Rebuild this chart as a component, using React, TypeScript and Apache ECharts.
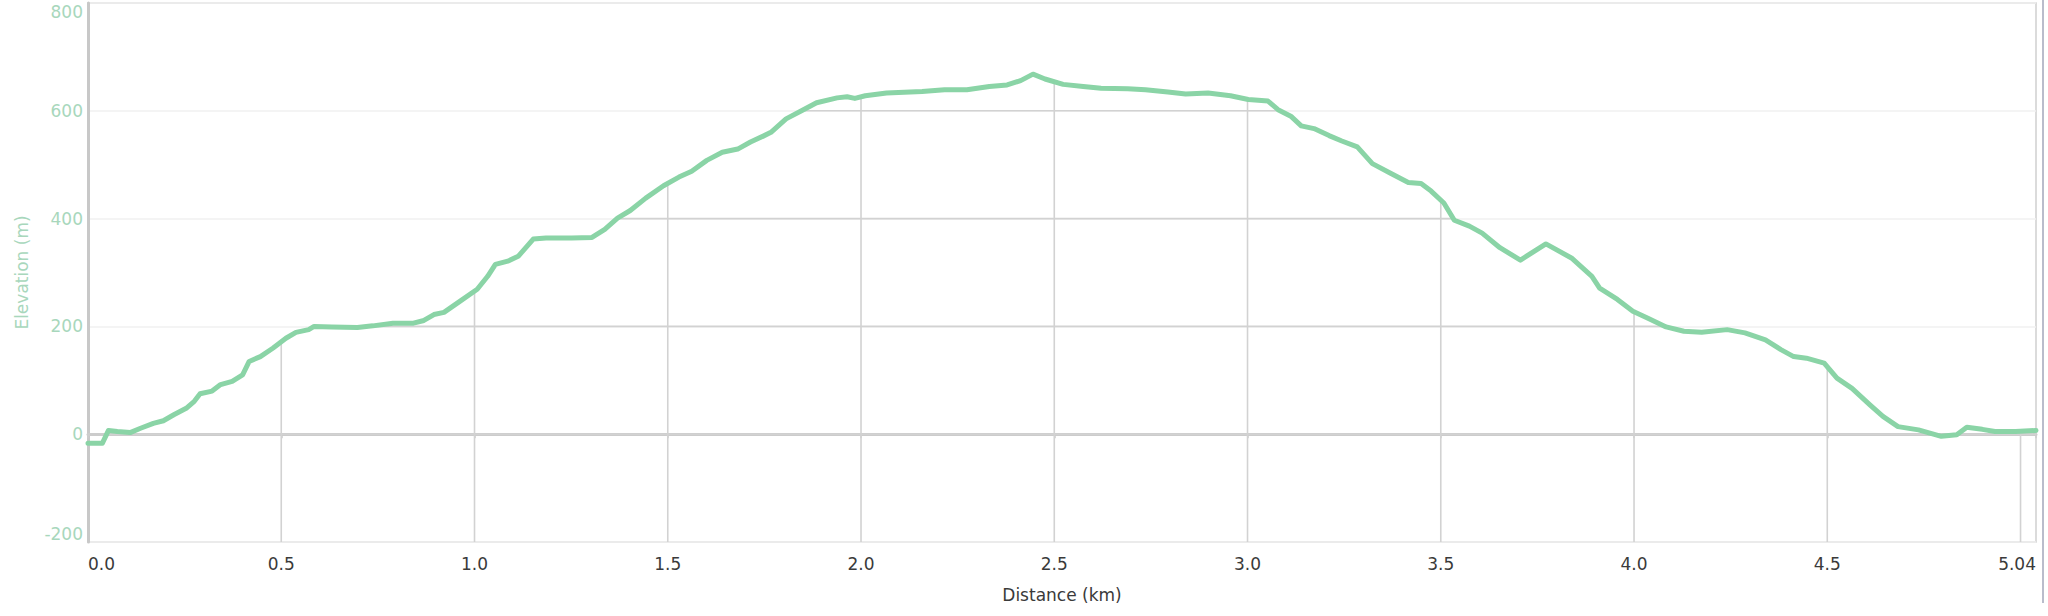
import React, { useEffect, useRef } from "react";
import * as echarts from "echarts";

// Distance along the track (km)
const distanceKm: number[] = [
  0.0, 0.037, 0.053, 0.076, 0.109, 0.136, 0.169, 0.195, 0.222, 0.254, 0.275, 0.29, 0.321, 0.343,
  0.373, 0.4, 0.417, 0.446, 0.479, 0.512, 0.538, 0.571, 0.585, 0.631, 0.697, 0.737, 0.789, 0.842,
  0.869, 0.895, 0.921, 0.961, 1.007, 1.034, 1.054, 1.086, 1.113, 1.152, 1.185, 1.251, 1.304, 1.337,
  1.37, 1.403, 1.443, 1.489, 1.529, 1.562, 1.601, 1.641, 1.681, 1.714, 1.747, 1.767, 1.806, 1.846,
  1.885, 1.938, 1.964, 1.984, 2.011, 2.066, 2.158, 2.216, 2.274, 2.332, 2.378, 2.413, 2.445, 2.476,
  2.523, 2.575, 2.621, 2.69, 2.736, 2.794, 2.84, 2.898, 2.956, 3.002, 3.053, 3.079, 3.112, 3.139,
  3.172, 3.211, 3.244, 3.284, 3.323, 3.37, 3.416, 3.449, 3.475, 3.508, 3.535, 3.574, 3.607, 3.653,
  3.706, 3.772, 3.838, 3.891, 3.911, 3.957, 3.997, 4.036, 4.083, 4.129, 4.175, 4.241, 4.287, 4.34,
  4.38, 4.413, 4.446, 4.492, 4.525, 4.564, 4.611, 4.644, 4.683, 4.736, 4.795, 4.835, 4.861, 4.901,
  4.934, 4.987, 5.04,
];

// Elevation (m)
const elevationM: number[] = [
  -17, -17, 7, 5, 3, 11, 20, 25, 36, 48, 61, 75, 80, 92,
  98, 110, 135, 144, 160, 178, 189, 194, 200, 199, 198, 201, 206, 206,
  211, 222, 226, 246, 269, 293, 315, 321, 330, 362, 364, 364, 365, 380,
  401, 415, 438, 461, 477, 488, 508, 523, 529, 542, 553, 560, 585, 600,
  615, 624, 626, 623, 628, 633, 636, 639, 639, 645, 648, 656, 668, 659,
  649, 645, 642, 641, 639, 635, 631, 633, 628, 621, 618, 602, 590, 572,
  567, 554, 544, 533, 502, 484, 467, 465, 451, 429, 397, 386, 373, 346,
  323, 353, 327, 293, 271, 250, 228, 215, 199, 191, 189, 194, 188, 175,
  157, 144, 141, 132, 104, 85, 54, 33, 14, 8, -4, -1, 13, 9,
  5, 5, 7,
];

const xLabelValues: number[] = [0, 0.5, 1, 1.5, 2, 2.5, 3, 3.5, 4, 4.5, 5.04];
const xDropLines: number[] = [0.5, 1, 1.5, 2, 2.5, 3, 3.5, 4, 4.5, 5];
const yLevels: number[] = [0, 200, 400, 600];

const X_MIN = 0;
const X_MAX = 5.04;
const Y_MIN = -200;
const Y_MAX = 800;

const FONT = "DejaVu Sans";
const LINE_GREEN = "#8ad4a6";
const LABEL_GREEN = "#a8d7bc";
const GRID_DARK = "#d2d2d2";
const GRID_FAINT = "#f1f1f1";

function elevAt(x: number): number {
  for (let i = 0; i < distanceKm.length - 1; i++) {
    const a = distanceKm[i];
    const b = distanceKm[i + 1];
    if (x >= a && x <= b) {
      const t = b === a ? 0 : (x - a) / (b - a);
      return elevationM[i] + t * (elevationM[i + 1] - elevationM[i]);
    }
  }
  return elevationM[elevationM.length - 1];
}

function renderUnderGrid(_params: any, api: any) {
  const children: any[] = [];
  const style = { stroke: GRID_DARK, lineWidth: 1.6 };
  // horizontal grid segments lying under the profile
  yLevels.forEach((L) => {
    let startX: number | null = null;
    for (let i = 0; i < distanceKm.length; i++) {
      const e = elevationM[i];
      const d = distanceKm[i];
      if (i === 0) {
        if (e >= L) startX = d;
        continue;
      }
      const pe = elevationM[i - 1];
      const pd = distanceKm[i - 1];
      const above = e >= L;
      const prevAbove = pe >= L;
      if (above && !prevAbove) {
        const t = (L - pe) / (e - pe);
        startX = pd + t * (d - pd);
      } else if (!above && prevAbove) {
        const t = (L - pe) / (e - pe);
        const endX = pd + t * (d - pd);
        if (startX !== null) {
          const p1 = api.coord([startX, L]);
          const p2 = api.coord([endX, L]);
          children.push({ type: "line", shape: { x1: p1[0], y1: p1[1], x2: p2[0], y2: p2[1] }, style });
        }
        startX = null;
      }
    }
    if (startX !== null) {
      const p1 = api.coord([startX, L]);
      const p2 = api.coord([distanceKm[distanceKm.length - 1], L]);
      children.push({ type: "line", shape: { x1: p1[0], y1: p1[1], x2: p2[0], y2: p2[1] }, style });
    }
  });
  // vertical drop lines from the axis up to the profile
  xDropLines.forEach((x) => {
    const p1 = api.coord([x, Y_MIN]);
    const p2 = api.coord([x, elevAt(x)]);
    children.push({ type: "line", shape: { x1: p1[0], y1: p1[1], x2: p2[0], y2: p2[1] }, style });
  });
  return { type: "group", children };
}

export default function App() {
  const ref = useRef<HTMLDivElement>(null);

  useEffect(() => {
    if (!ref.current) return;
    const chart = echarts.init(ref.current, undefined, { renderer: "svg" });
    const lineData = distanceKm.map((d, i) => [d, elevationM[i]]);

    chart.setOption({
      animation: false,
      backgroundColor: "#ffffff",
      textStyle: { fontFamily: FONT },
      grid: {
        left: 88,
        right: 12,
        top: 3,
        bottom: 74,
        show: true,
        borderColor: "#cfcfcf",
        borderWidth: 1.5,
        backgroundColor: "transparent",
      },
      xAxis: {
        type: "value",
        min: X_MIN,
        max: X_MAX,
        name: "Distance (km)",
        nameLocation: "middle",
        nameGap: 44,
        nameTextStyle: { color: "#3a3a3a", fontSize: 17, fontFamily: FONT },
        axisLine: { show: true, lineStyle: { color: "#cccccc", width: 3 } },
        axisTick: {
          show: true,
          length: 4,
          customValues: xLabelValues,
          lineStyle: { color: "#cccccc", width: 1.5 },
        },
        axisLabel: {
          customValues: xLabelValues,
          color: "#3a3a3a",
          fontSize: 17,
          fontFamily: FONT,
          margin: 13,
          alignMinLabel: "left",
          alignMaxLabel: "right",
          formatter: (v: number) => (v === 5.04 ? "5.04" : v.toFixed(1)),
        },
        splitLine: { show: false },
      },
      yAxis: {
        type: "value",
        min: Y_MIN,
        max: Y_MAX,
        interval: 200,
        name: "Elevation (m)",
        nameLocation: "middle",
        nameGap: 58,
        nameRotate: 90,
        nameTextStyle: { color: LABEL_GREEN, fontSize: 17, fontFamily: FONT },
        axisLine: { show: true, lineStyle: { color: "#c8c8c8", width: 3 } },
        axisTick: { show: false },
        axisLabel: {
          color: LABEL_GREEN,
          fontSize: 17,
          fontFamily: FONT,
          margin: 5,
          verticalAlignMaxLabel: "top",
          verticalAlignMinLabel: "bottom",
        },
        splitLine: { show: true, lineStyle: { color: GRID_FAINT, width: 1.5 } },
      },
      series: [
        {
          type: "custom",
          name: "grid-under",
          renderItem: renderUnderGrid,
          data: [[0, 0]],
          silent: true,
          z: 1,
        },
        {
          type: "line",
          name: "Elevation",
          data: lineData,
          showSymbol: false,
          symbol: "none",
          smooth: false,
          lineStyle: { color: LINE_GREEN, width: 5, join: "round", cap: "round" },
          z: 3,
        },
      ],
      graphic: [
        {
          type: "rect",
          shape: { x: 2042, y: 0, width: 2, height: 603 },
          style: { fill: "#b9bccb" },
          silent: true,
        },
      ],
    });

    return () => chart.dispose();
  }, []);

  return (
    <div
      ref={ref}
      style={{ position: "absolute", left: 0, top: 0, width: 2048, height: 616 }}
    />
  );
}
